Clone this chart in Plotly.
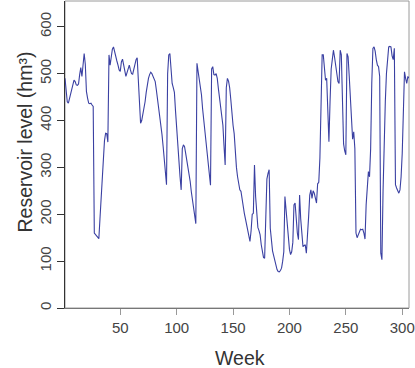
import plotly.graph_objects as go

# weekly reservoir level (hm3), weeks 1..306
level = [
    490, 465, 440, 437, 448, 460, 470, 480, 486, 483,
    476, 475, 478, 498, 513, 494, 525, 543, 520, 462,
    448, 437, 436, 437, 433, 430, 160, 157, 156, 152,
    148, 190, 235, 270, 320, 357, 373, 372, 354, 540,
    518, 535, 552, 557, 545, 535, 527, 518, 508, 505,
    525, 531, 518, 500, 494, 502, 512, 518, 508, 500,
    499, 510, 522, 530, 534, 480, 420, 394, 400, 412,
    425, 440, 460, 478, 490, 498, 503, 500, 495, 490,
    483, 465, 447, 430, 415, 395, 370, 345, 318, 290,
    263, 500, 540, 543, 505, 479, 470, 460, 420, 380,
    355, 310, 280, 252, 340, 348, 344, 330, 315, 300,
    291, 270, 248, 230, 212, 195, 180, 522, 505, 490,
    478, 455, 425, 400, 380, 360, 330, 305, 285, 262,
    510, 515, 498, 497, 500, 490, 468, 450, 435, 420,
    390, 345, 305, 470, 490, 484, 470, 445, 410, 390,
    372, 330, 300, 280, 262, 252, 249, 230, 215, 202,
    190, 178, 167, 155, 142, 165, 200, 202, 305, 238,
    195, 172, 165, 156, 135, 117, 108, 106, 190, 275,
    287, 295, 170, 140, 122, 112, 100, 90, 82, 78,
    77, 80, 85, 100, 120, 238, 205, 175, 145, 125,
    114, 120, 140, 220, 224, 185, 160, 146, 241, 190,
    160, 131, 133, 135, 117, 150, 195, 241, 252, 234,
    250, 245, 232, 224, 265, 268, 320, 430, 540, 540,
    515, 486, 490, 420, 355, 440, 510, 530, 550, 535,
    515, 495, 483, 479, 550, 540, 430, 350, 335, 327,
    543, 536, 495, 444, 380, 360, 376, 340, 160, 150,
    156, 165, 168, 167, 168, 160, 147, 220, 265, 291,
    280, 340, 480, 554, 557, 548, 530, 518, 515, 494,
    117, 103, 250, 360, 440, 500, 540, 557, 558, 557,
    538, 530, 554, 263, 256, 248, 245, 252, 280, 330,
    430, 504, 490, 479, 494, 490,
]
weeks = list(range(1, len(level) + 1))

x_ticks = [50, 100, 150, 200, 250, 300]
y_ticks = [0, 100, 200, 300, 400, 500, 600]

font = "Liberation Sans, Arial, sans-serif"

fig = go.Figure()
fig.add_trace(go.Scatter(
    x=weeks, y=level, mode="lines",
    line=dict(color="#3a40a2", width=1.1),
    showlegend=False,
))

# gray box round the plot region (R style)
fig.add_shape(type="rect", xref="paper", yref="paper", x0=0, x1=1, y0=0, y1=1,
              line=dict(color="#9a9a9a", width=1), layer="below")

fig.update_xaxes(
    range=[1, 306], showgrid=False, zeroline=False,
    showline=True, linecolor="#777777", linewidth=1,
    tickvals=x_ticks, ticks="outside", ticklen=6, tickcolor="#999999",
    tickfont=dict(family=font, size=15, color="#444444"),
)
fig.update_yaxes(
    range=[0, 655], showgrid=False, zeroline=False,
    showline=True, linecolor="#333333", linewidth=1,
    tickvals=y_ticks, ticks="outside", ticklen=7, tickcolor="#333333",
    tickangle=-90,
    tickfont=dict(family=font, size=15, color="#444444"),
)

fig.add_annotation(text="Reservoir level (hm³)", xref="paper", yref="paper",
                   x=0, y=0.539, xshift=-53, textangle=-90, showarrow=False,
                   font=dict(family=font, size=19.5, color="#333333"))
fig.add_annotation(text="Week", xref="paper", yref="paper",
                   x=0.509, y=0, yshift=-50, yanchor="middle", showarrow=False,
                   font=dict(family=font, size=19.5, color="#333333"))

fig.update_layout(
    width=415, height=368,
    margin=dict(l=65, r=6, t=1, b=60),
    paper_bgcolor="white", plot_bgcolor="white",
)

# drop the default page margin so the figure sits at the window origin
fig.write_html("out.html", config={"displayModeBar": False},
               post_script="document.body.style.margin='0';")
